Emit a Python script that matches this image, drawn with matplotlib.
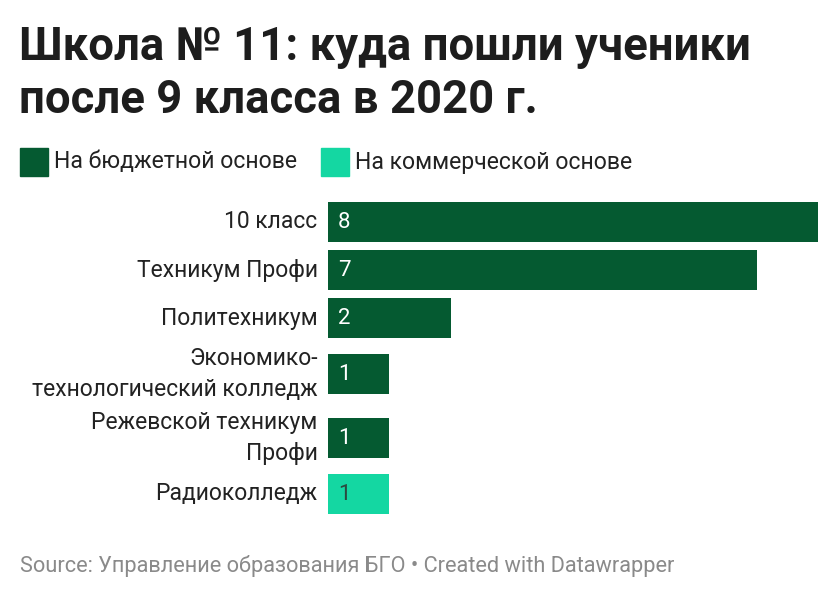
import matplotlib.pyplot as plt

plt.rcParams['font.family'] = ['Roboto', 'DejaVu Sans']

# Data
categories = ['10 класс', 'Техникум Профи', 'Политехникум',
              'Экономико-\nтехнологический колледж',
              'Режевской техникум\nПрофи', 'Радиоколледж']
values = [8, 7, 2, 1, 1, 1]
funding = ['budget', 'budget', 'budget', 'budget', 'budget', 'commercial']
legend_labels = {'budget': 'На бюджетной основе',
                 'commercial': 'На коммерческой основе'}
title = 'Школа № 11: куда пошли ученики\nпосле 9 класса в 2020 г.'
footer = 'Source: Управление образования БГО • Created with Datawrapper'

# Style
colors = {'budget': '#055a31', 'commercial': '#14d7a2'}
value_colors = {'budget': 'white', 'commercial': '#2b4a3f'}
W, H = 840, 600

fig = plt.figure(figsize=(W / 100, H / 100), dpi=100)

def fx(px):
    return px / W

def fy(py):
    return 1 - py / H

# Title
fig.text(fx(19), fy(25), title, fontsize=32.8, fontweight='bold',
         color='#1d1d1d', va='top', ha='left', linespacing=1.27)

# Legend
lx = 20
for key in ['budget', 'commercial']:
    fig.patches.append(plt.Rectangle((fx(lx), fy(176)), fx(28), 28 / H,
                                     transform=fig.transFigure,
                                     color=colors[key]))
    t = fig.text(fx(lx + 34), fy(162), legend_labels[key], fontsize=16.6,
                 color='#222222', va='center', ha='left')
    fig.canvas.draw()
    bb = t.get_window_extent()
    lx = bb.x1 + 24

# Bars: row heights depend on number of label lines
ax_top, ax_bot = 190, 520
ax = fig.add_axes([fx(328), fy(ax_bot), fx(818) - fx(328), (ax_bot - ax_top) / H])
centers = []
y = 202
for i, c in enumerate(categories):
    nl = c.count('\n') + 1
    row = 48 + 16 * (nl - 1)
    if i == 0:
        y = y + 20
    else:
        y = y + row / 2
    centers.append(y)
    y = y + row / 2

ax.barh(centers, values, height=40,
        color=[colors[f] for f in funding], zorder=2)
for c, v, lab, f in zip(centers, values, categories, funding):
    ax.annotate(lab, xy=(0, c), xycoords=('axes fraction', 'data'),
                xytext=(-7.5, 0), textcoords='offset points',
                ha='right', va='center', fontsize=16.5, color='#222222',
                linespacing=1.4)
    ax.annotate(str(v), xy=(0, c), xycoords='data',
                xytext=(7, 0), textcoords='offset points',
                ha='left', va='center', fontsize=16, color=value_colors[f])

ax.set_xlim(0, 8)
ax.set_ylim(ax_bot, ax_top)
ax.axis('off')

# Footer
fig.text(fx(20), fy(566), footer, fontsize=15.7, color='#8a8a8a',
         va='center', ha='left')

fig.savefig('out.png', dpi=100)
